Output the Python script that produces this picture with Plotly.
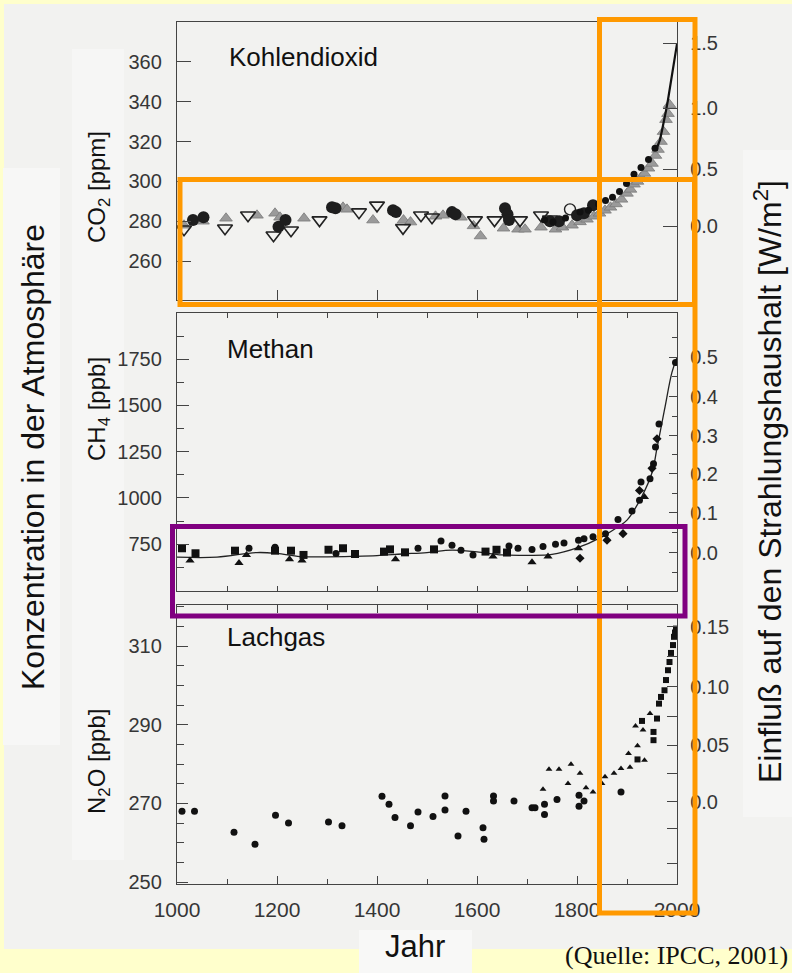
import plotly.graph_objects as go

W, H = 792, 973
def fx(p):
    return p / W
def fy(p):
    return 1 - p / H

FONT = "Liberation Sans, Arial, Helvetica, sans-serif"
AX = "#444444"
TXT = "#363636"

# ---------------- data: CO2 (ppm) ----------------
co2_circle_year = [1032, 1053, 1203, 1217, 1310, 1317, 1432, 1438, 1550, 1557, 1656, 1661, 1664, 1746, 1764, 1800, 1814, 1832]
co2_circle_val = [280.6, 282, 277.2, 280.6, 287, 286.5, 285.5, 284.6, 284.6, 283.5, 286.5, 283.5, 280.6, 280, 280, 283, 284, 288]

co2_opentri_year = [1014, 1096, 1142, 1193, 1228, 1285, 1364, 1400, 1452, 1488, 1510, 1596, 1635, 1686, 1728, 1746]
co2_opentri_val = [276, 276.5, 283, 273, 275.5, 280.6, 284.6, 288, 276.7, 283, 282, 280.6, 280.6, 280.6, 283, 281]

co2_opencircle_year = [1786]
co2_opencircle_val = [286]

co2_graytri_year = [1014, 1052, 1098, 1160, 1196, 1206, 1254, 1332, 1340, 1392, 1453, 1467, 1517, 1532, 1568, 1593, 1607,
                    1653, 1682, 1696, 1728, 1757, 1771, 1790, 1806, 1820, 1834, 1845, 1856, 1867, 1878, 1889, 1900,
                    1907, 1914, 1921, 1928, 1935, 1943, 1950, 1957, 1962, 1968, 1973, 1978, 1982, 1985]
co2_graytri_val = [278, 280, 281.5, 283, 284, 282, 281.5, 287, 286, 280.6, 280.6, 279.6, 282.5, 283, 282, 277.7, 272.6,
                   276.5, 276, 276, 277, 276, 277, 278, 279.7, 281, 282.5, 284, 285.5, 287, 288.7, 291, 294,
                   296, 298.6, 300, 302, 304, 306.6, 309, 313, 316, 320, 325, 331, 334, 338.5]

co2_small_year = [1735, 1752, 1777, 1806, 1823, 1843, 1857, 1871, 1885, 1899, 1914, 1928, 1943, 1956]
co2_small_val = [280.6, 279.7, 281.6, 284.6, 285.5, 288.7, 290.4, 292, 295, 299, 303.6, 307, 311, 316.7]

co2_line_year = [1958, 1962, 1966, 1970, 1974, 1978, 1982, 1986, 1990, 1994, 1998, 2000]
co2_line_val = [315.5, 318.5, 321, 325.5, 330, 335.5, 341, 347, 354, 358.5, 366.5, 369]

co2_ticks = [260, 280, 300, 320, 340, 360]
co2_forcing_pos = [277.5, 306, 336.7, 369.4]
co2_forcing_text = ["0.0", "0.5", "1.0", "1.5"]

# ---------------- data: CH4 (ppb) ----------------
ch4_line_year = [1000, 1080, 1160, 1200, 1246, 1300, 1350, 1400, 1450, 1500, 1550, 1600, 1650, 1700, 1750,
                 1800, 1850, 1880, 1900, 1930, 1950, 1960, 1975, 1990, 2000]
ch4_line_val = [680, 680, 705, 700, 683, 682, 684, 688, 697, 705, 718, 708, 692, 690, 695,
                730, 790, 840, 880, 1010, 1136, 1270, 1477, 1680, 1760]

ch4_square_year = [1010, 1037, 1116, 1196, 1228, 1253, 1303, 1332, 1356, 1414, 1426, 1456, 1514, 1617, 1639, 1660]
ch4_square_val = [728, 701, 715, 715, 715, 692, 720, 728, 697, 710, 722, 706, 722, 710, 720, 705]

ch4_circle_year = [1144, 1196, 1318, 1482, 1528, 1550, 1568, 1592, 1664, 1682, 1710, 1732, 1757, 1774, 1803, 1814,
                   1832, 1857, 1882, 1910, 1925, 1928, 1946, 1953, 1957, 1964, 1997]
ch4_circle_val = [728, 733, 700, 728, 767, 745, 717, 692, 740, 728, 722, 737, 750, 757, 772, 780,
                  790, 807, 883, 930, 987, 1086, 1104, 1185, 1275, 1400, 1733]

ch4_tri_year = [1026, 1124, 1139, 1225, 1250, 1437, 1632, 1710, 1742, 1803, 1935]
ch4_tri_val = [662, 648, 692, 668, 662, 668, 683, 652, 683, 728, 1005]

ch4_diamond_year = [1806, 1860, 1892, 1925, 1950, 1960]
ch4_diamond_val = [674, 772, 807, 1040, 1160, 1320]

ch4_ticks = [750, 1000, 1250, 1500, 1750]
ch4_minor = [625, 875, 1125, 1375, 1625, 1875]
ch4_forcing_pos = [703, 919, 1130, 1336, 1547, 1762]
ch4_forcing_text = ["0.0", "0.1", "0.2", "0.3", "0.4", "0.5"]
ch4_forcing_minor = [597, 811, 1025, 1233, 1441, 1655, 1870]

# ---------------- data: N2O (ppb) ----------------
n2o_circle_year = [1010, 1035, 1114, 1156, 1197, 1223, 1303, 1330, 1410, 1424, 1436, 1467, 1482, 1512, 1536, 1536,
                   1562, 1578, 1612, 1614, 1633, 1633, 1674, 1710, 1716, 1735, 1735, 1760, 1804, 1804, 1814, 1888]
n2o_circle_val = [268.0, 268.0, 262.7, 259.6, 267.0, 265.0, 265.3, 264.3, 271.8, 269.8, 266.4, 264.3, 267.8, 266.7,
                  271.9, 268.3, 261.7, 268.0, 263.8, 260.9, 271.9, 270.6, 270.6, 268.9, 268.9, 269.8, 267.2, 271.0,
                  272.1, 269.3, 270.6, 272.9]

n2o_tri_year = [1732, 1744, 1764, 1788, 1782, 1806, 1818, 1832, 1850, 1856, 1874, 1888, 1903, 1906, 1917, 1921, 1935,
                1932, 1946]
n2o_tri_val = [273.6, 278.7, 278.7, 280.0, 275.1, 277.7, 274.0, 272.9, 275.1, 276.8, 277.7, 278.9, 282.7, 279.2,
               289.7, 284.7, 281.0, 288.7, 292.9]

n2o_square_year = [1921, 1930, 1953, 1953, 1960, 1964, 1968, 1975, 1978, 1982, 1985, 1988, 1992, 1994, 1996, 1998]
n2o_square_val = [281.2, 291.0, 286.1, 288.2, 291.6, 295.4, 297.1, 298.8, 301.4, 303.9, 306.0, 308.3, 310.3, 312.4,
                  313.5, 314.5]

n2o_ticks = [250, 270, 290, 310]
n2o_minor = [255, 260, 265, 275, 280, 285, 295, 300, 305, 315, 320]
n2o_forcing_pos = [270.4, 284.8, 299.7, 315]
n2o_forcing_text = ["0.0", "0.05", "0.10", "0.15"]
n2o_forcing_minor = [254.8, 263.7, 277.5, 292.2, 307.3]

x_ticks = [1000, 1200, 1400, 1600, 1800, 2000]

# ---------------- figure ----------------
fig = go.Figure()

def add(xs, ys, xa, ya, **kw):
    fig.add_trace(go.Scatter(x=xs, y=ys, xaxis=xa, yaxis=ya, showlegend=False, hoverinfo="skip", **kw))

# CO2 panel
add(co2_graytri_year, co2_graytri_val, "x2", "y", mode="markers",
    marker=dict(symbol="triangle-up", size=11, color="#9a9a9a", line=dict(width=0.8, color="#7a7a7a")))
add(co2_opentri_year, co2_opentri_val, "x2", "y", mode="markers",
    marker=dict(symbol="triangle-down-open", size=13, color="#222222", line=dict(width=1.6)))
add(co2_opencircle_year, co2_opencircle_val, "x2", "y", mode="markers",
    marker=dict(symbol="circle-open", size=11, color="#222222", line=dict(width=1.4)))
add(co2_circle_year, co2_circle_val, "x2", "y", mode="markers",
    marker=dict(symbol="circle", size=12, color="#1e1e1e"))
add(co2_small_year, co2_small_val, "x2", "y", mode="markers",
    marker=dict(symbol="circle", size=7, color="#111111"))
add(co2_line_year, co2_line_val, "x2", "y", mode="lines", line=dict(color="#111111", width=2.2))
add([], [], "x2", "y2", mode="markers")

# CH4 panel
add(ch4_line_year, ch4_line_val, "x3", "y3", mode="lines", line=dict(color="#222222", width=1.3, shape="spline"))
add(ch4_square_year, ch4_square_val, "x3", "y3", mode="markers",
    marker=dict(symbol="square", size=8, color="#111111"))
add(ch4_circle_year, ch4_circle_val, "x3", "y3", mode="markers",
    marker=dict(symbol="circle", size=7, color="#111111"))
add(ch4_tri_year, ch4_tri_val, "x3", "y3", mode="markers",
    marker=dict(symbol="triangle-up", size=8, color="#111111"))
add(ch4_diamond_year, ch4_diamond_val, "x3", "y3", mode="markers",
    marker=dict(symbol="diamond", size=7, color="#111111"))
add([], [], "x3", "y4", mode="markers")

# N2O panel
add(n2o_circle_year, n2o_circle_val, "x", "y5", mode="markers",
    marker=dict(symbol="circle", size=7, color="#111111"))
add(n2o_tri_year, n2o_tri_val, "x", "y5", mode="markers",
    marker=dict(symbol="triangle-up", size=6, color="#111111"))
add(n2o_square_year, n2o_square_val, "x", "y5", mode="markers",
    marker=dict(symbol="square", size=6, color="#111111"))
add([], [], "x", "y6", mode="markers")

xdom = [fx(177), fx(677)]
dom_co2 = [fy(300), fy(22)]
dom_ch4 = [fy(591), fy(313)]
dom_n2o = [fy(884), fy(605)]

tickfont = dict(family=FONT, size=20, color=TXT)
base_x = dict(domain=xdom, range=[1000, 2000], showline=True, linecolor=AX, linewidth=1.4, automargin=False,
              showgrid=False, zeroline=False, ticks="inside", tickcolor=AX, tickwidth=1.2)
base_y = dict(showline=True, linecolor=AX, linewidth=1.4, showgrid=False, zeroline=False, automargin=False,
              ticks="inside", tickcolor=AX, tickwidth=1.2, tickfont=tickfont)

fig.update_layout(
    width=W, height=H, margin=dict(l=0, r=0, t=0, b=0, pad=0), autosize=False,
    paper_bgcolor="#FFFFCC", plot_bgcolor="#F4F4F3",
    xaxis=dict(base_x, anchor="y5", tickvals=x_ticks, ticklen=8, tickfont=dict(family=FONT, size=21, color=TXT),
               ticklabelstandoff=7, mirror="ticks",
               minor=dict(tickvals=[1100, 1300, 1500, 1700, 1900], ticklen=5, tickcolor=AX, ticks="inside")),
    xaxis2=dict(base_x, anchor="y", tickvals=[1200, 1400, 1600, 1800], ticklen=10, showticklabels=False,
                mirror=True),
    xaxis3=dict(base_x, anchor="y3", dtick=100, tick0=1000, ticklen=5, showticklabels=False, mirror="ticks"),
    yaxis=dict(base_y, domain=dom_co2, anchor="x2", range=[240.5, 380], tickvals=co2_ticks, ticklen=14,
               ticklabelstandoff=10),
    yaxis2=dict(base_y, overlaying="y", side="right", anchor="x2", range=[240.5, 380],
                tickvals=co2_forcing_pos, ticktext=co2_forcing_text, ticklen=14, ticklabelstandoff=8),
    yaxis3=dict(base_y, domain=dom_ch4, anchor="x3", range=[497, 2000], tickvals=ch4_ticks, ticklen=12,
                ticklabelstandoff=10,
                minor=dict(tickvals=ch4_minor, ticklen=7, tickcolor=AX, ticks="inside")),
    yaxis4=dict(base_y, overlaying="y3", side="right", anchor="x3", range=[497, 2000],
                tickvals=ch4_forcing_pos, ticktext=ch4_forcing_text, ticklen=8, ticklabelstandoff=8,
                minor=dict(tickvals=ch4_forcing_minor, ticklen=5, tickcolor=AX, ticks="inside")),
    yaxis5=dict(base_y, domain=dom_n2o, anchor="x", range=[249.5, 320.5], tickvals=n2o_ticks, ticklen=11,
                ticklabelstandoff=10,
                minor=dict(tickvals=n2o_minor, ticklen=7, tickcolor=AX, ticks="inside")),
    yaxis6=dict(base_y, overlaying="y5", side="right", anchor="x", range=[249.5, 320.5],
                tickvals=n2o_forcing_pos, ticktext=n2o_forcing_text, ticklen=10, ticklabelstandoff=8,
                minor=dict(tickvals=n2o_forcing_minor, ticklen=10, tickcolor=AX, ticks="inside")),
)

shapes = []
def prect(x0, y0, x1, y1, fill=None, line=None, width=0, layer="below"):
    d = dict(type="rect", xref="paper", yref="paper", x0=fx(x0), x1=fx(x1), y0=fy(y1), y1=fy(y0), layer=layer)
    if fill:
        d["fillcolor"] = fill
    d["line"] = dict(color=line if line else "rgba(0,0,0,0)", width=width)
    shapes.append(d)

# scanned page background and lighter label boxes
prect(4, 4, 792, 949, fill="#F2F2F0")
prect(3, 168, 60, 745, fill="#F7F7F6")
prect(72, 49, 124, 860, fill="#F6F6F5")
prect(743, 150, 792, 817, fill="#F6F6F5")
prect(359, 930, 472, 973, fill="#F8F8F7")
# highlight frames
prect(599.5, 19.5, 695, 913, line="#FF9900", width=5, layer="above")
prect(180, 179.5, 694.5, 304.5, line="#FF9900", width=5, layer="above")
prect(172.5, 526.5, 685, 616, line="#800080", width=5, layer="above")
fig.update_layout(shapes=shapes)

ann = []
def text(x, y, s, size, angle=0, family=FONT, color="#111111", xanchor="center"):
    ann.append(dict(x=fx(x), y=fy(y), xref="paper", yref="paper", text=s, showarrow=False, textangle=angle,
                    font=dict(family=family, size=size, color=color), xanchor=xanchor, yanchor="middle"))

text(227, 57, "Kohlendioxid", 26, xanchor="left")
text(225, 349, "Methan", 26, xanchor="left")
text(225, 637, "Lachgas", 26, xanchor="left")
text(98, 187, "CO<sub>2</sub> [ppm]", 24, angle=-90)
text(98, 409, "CH<sub>4</sub> [ppb]", 24, angle=-90)
text(98, 762, "N<sub>2</sub>O [ppb]", 24, angle=-90)
text(33, 457, "Konzentration in der Atmosphäre", 32, angle=-90)
text(768, 482, "Einfluß auf den Strahlungshaushalt [W/m<sup>2</sup>]", 32, angle=-90)
text(415, 946, "Jahr", 31)
text(790, 955, "(Quelle: IPCC, 2001)", 26, family="Liberation Serif, Times New Roman, serif", xanchor="right")
fig.update_layout(annotations=ann)

fig.write_html(
    "out.html",
    config={"displayModeBar": False},
    post_script="document.body.style.margin='0';document.body.style.padding='0';"
                "document.documentElement.style.overflow='hidden';document.body.style.overflow='hidden';",
)
